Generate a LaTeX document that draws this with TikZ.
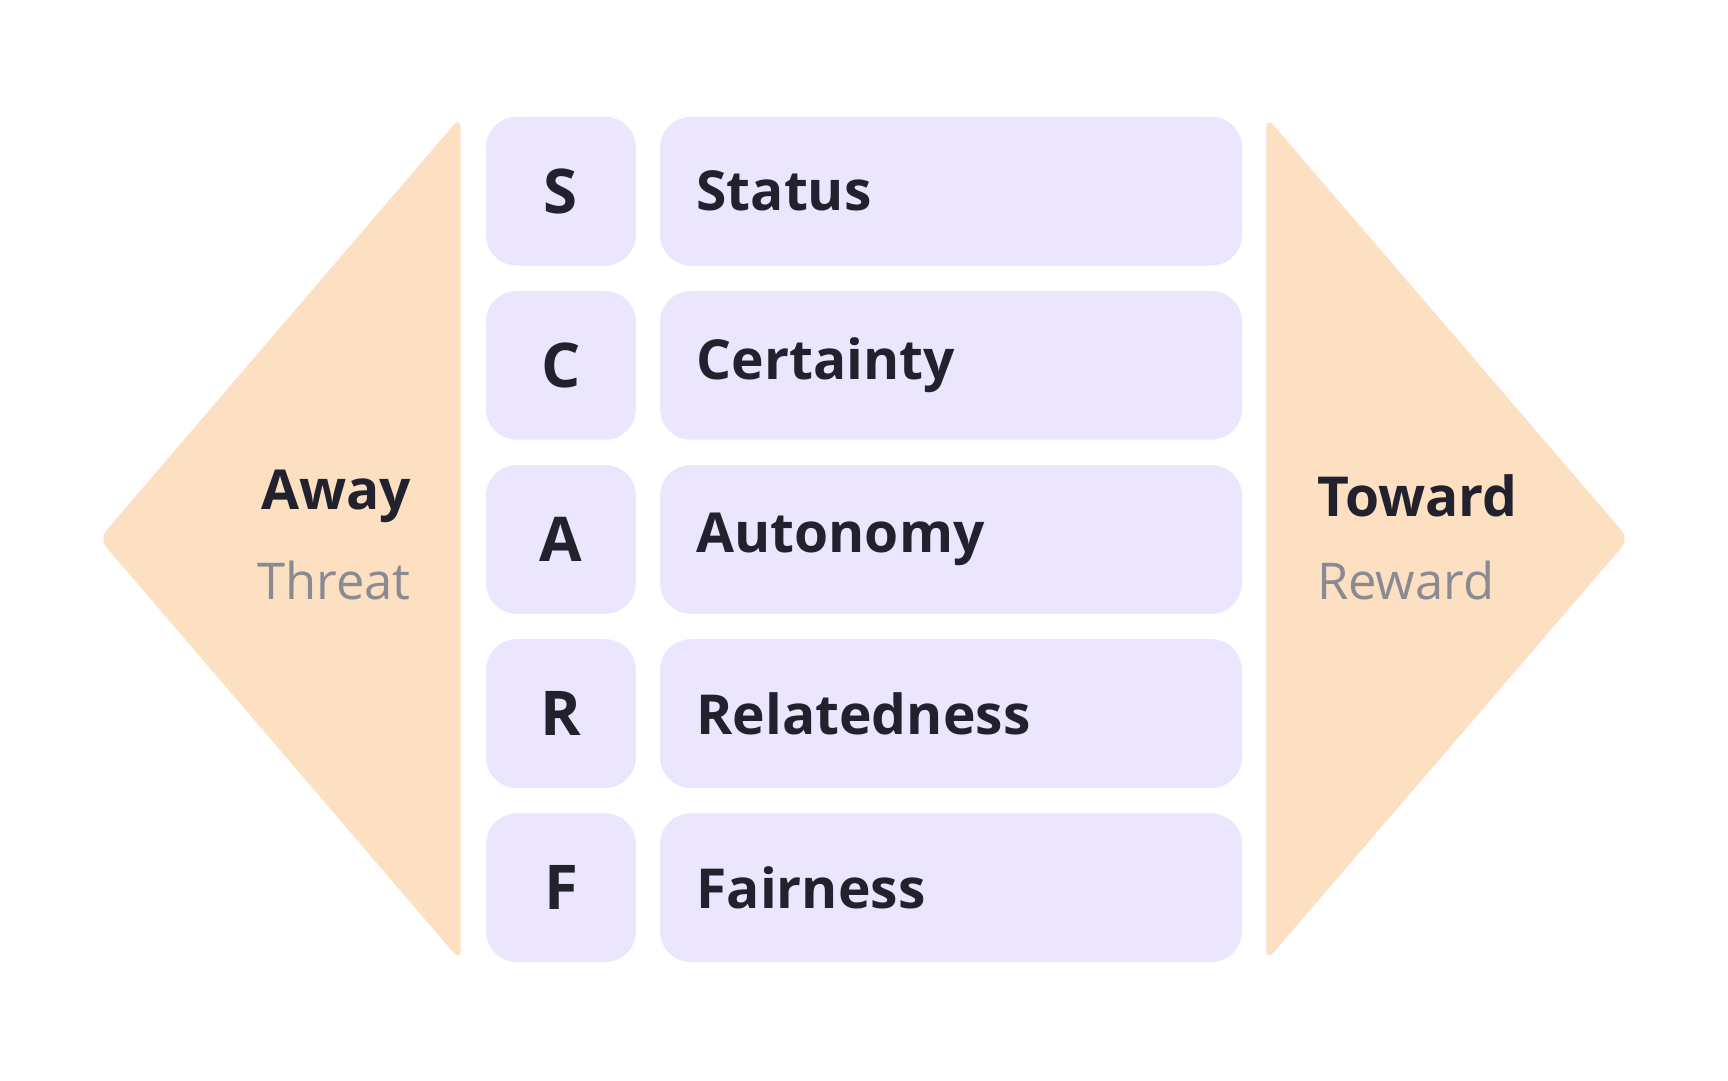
\documentclass[tikz,border=0pt]{standalone}
\usepackage{fontspec}
\setmainfont{Open Sans}
\usetikzlibrary{positioning}
\definecolor{peach}{HTML}{FDDFC2}
\definecolor{lilac}{HTML}{EBE6FD}
\definecolor{ink}{HTML}{22222E}
\definecolor{mute}{HTML}{8A8A92}
\begin{document}
\begin{tikzpicture}[x=1pt,y=-1pt,
        side/.style={fill=peach, rounded corners=10pt},
        letterbox/.style={fill=lilac, rounded corners=28pt, minimum width=136pt, minimum height=135pt,
            text=ink, font=\fontsize{56}{60}\selectfont\bfseries, inner sep=0pt},
        labelbox/.style={fill=lilac, rounded corners=28pt, minimum width=528pt, minimum height=135pt,
            text=ink, font=\fontsize{50}{60}\selectfont\bfseries, text width=462pt, align=left, inner sep=0pt},
        head/.style={text=ink, font=\fontsize{50}{60}\selectfont\bfseries, inner sep=0pt},
        sub/.style={text=mute, font=\fontsize{46}{56}\selectfont, inner sep=0pt}
    ]
        \useasboundingbox[fill=white] (0,0) rectangle (1568,980);

        % Sides
        \fill[side] (418,106) -- (418,872) -- (90,489) -- cycle;
        \fill[side] (1149,106) -- (1149,872) -- (1478,489) -- cycle;

        % Rows
        \foreach \l/\w [count=\i from 0] in {S/Status,C/Certainty,A/Autonomy,R/Relatedness,F/Fairness} {
            \node[letterbox] (letter\i) at (509,{173.5+158*\i}) {\l};
            \node[labelbox] (label\i) at (863,{173.5+158*\i}) {\w};
        }

        % Annotations
        \node[head, anchor=east] (away) at (373,450) {Away};
        \node[sub, anchor=east] (threat) at (373,527) {Threat};
        \node[head, anchor=west] (toward) at (1195,450) {Toward};
        \node[sub, anchor=west] (reward) at (1195,527) {Reward};
\end{tikzpicture}
\end{document}
